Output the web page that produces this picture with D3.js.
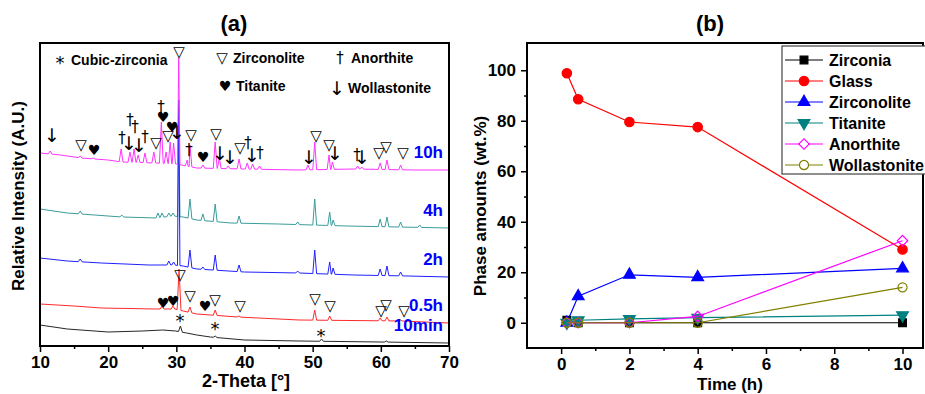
<!DOCTYPE html>
<html>
<head>
<meta charset="utf-8">
<script src="https://d3js.org/d3.v7.min.js"></script>
<style>
  body { margin: 0; background: #fff; }
  svg { display: block; font-family: Arial, "Liberation Sans", sans-serif; }
  .tick text { font-size: 17px; font-weight: bold; fill: #000; }
  .tick line { stroke: #000; stroke-width: 1.5; }
  .sym { font-family: "DejaVu Sans", sans-serif; fill: #000; }
</style>
</head>
<body>
<svg id="chart" width="925" height="394"></svg>
<script>
// ---------- (a) XRD patterns : [2-theta, intensity (A.U.)] ----------
const twoThetaTicks = [10, 20, 30, 40, 50, 60, 70];
const twoThetaMinor = [15, 25, 35, 45, 55, 65];

const base10min = [[10,21],[14,17],[20,14],[25,15],[28,16],[29.9,15],[31.5,13],[33,11],[35,9],[40,6],[48,5],[60,4],[70,3]];
const peaks10min = [[30.6,20],[35.7,10],[51.3,7],[60.8,5]];

const base05h = [[10,42],[15,40],[19,38],[27,37],[29.8,37],[31,35],[33,32],[39,29],[48,26],[63,25],[70,23]];
const peaks05h = [[27.9,40],[29.5,40],[30.4,77],[32.0,39],[35.7,36],[39.2,30],[50.3,36],[52.5,30],[59.9,28],[60.9,29],[62.9,26]];

const base2h = [[10,88],[14,85],[19,83],[26,81],[29.5,81],[31,80],[33,77],[40,74],[48,73],[56,71],[64,70],[70,69]];
const peaks2h = [[15.9,87],[28.9,85],[29.6,84],[30.35,246],[32.0,96],[33.9,79],[35.7,91],[39.2,81],[47.8,75],[50.3,96],[52.5,84],[53.0,78],[59.9,77],[60.9,80],[62.9,74]];

const base4h = [[10,137],[14,133],[18,131],[22,129],[27,128],[29.5,130],[31,129],[33,126],[38,123],[45,122],[55,120],[70,118]];
const peaks4h = [[15.9,135],[22.0,131],[27.3,133],[27.9,133],[28.9,133],[29.5,133],[30.35,238],[32.0,147],[33.9,132],[35.7,142],[39.2,130],[47.8,124],[50.3,147],[52.5,134],[53.0,126],[59.9,127],[60.9,129],[62.9,124],[65.7,121]];

const base10h = [[10,193],[13,191],[16,188],[20,186],[22,184],[27,183],[30,182],[33,178],[40,177],[48,176],[56,177],[65,176],[70,176]];
const peaks10h = [[11.5,195],[15.9,190],[17.8,188],[21.9,197],[23.2,194],[23.8,197],[24.4,191],[25.4,193],[26.7,194],[27.8,224],[28.5,194],[29.1,204],[29.6,203],[30.35,288],[31.6,186],[32.0,201],[33.9,181],[35.7,204],[36.3,188],[37.6,180],[39.2,187],[40.4,183],[41.2,182],[42.2,180],[49.3,181],[50.3,204],[52.4,191],[52.9,184],[56.6,180],[57.2,179],[59.9,183],[60.9,186],[62.9,181]];

const patternNames = ['10min', '0.5h', '4h', '2h', '10h'];
const patternColors = ['#262626', '#ff2a2a', '#3a9c9c', '#2020ff', '#ff33ff'];

// phase markers on the patterns : [2-theta, intensity]
const starMarks = [[30.54,26],[35.67,18],[51.22,11]];
const zirconoliteMarks = [[16.01,201],[27.02,203],[28.78,210],[30.39,294],[32.15,211],[35.82,212],[39.34,198],[50.49,210],[52.39,201],[59.73,193],[60.76,199],[63.25,193],
  [30.54,71],[32.0,50],[35.67,46],[39.34,40],[50.34,47],[52.54,40],[60.02,35],[60.76,41],[63.4,35]];
const titaniteMarks = [[17.92,196],[28.04,229],[29.36,219],[33.91,189],[28.04,43],[29.51,45],[34.2,40]];
const anorthiteMarks = [[22.03,208],[23.2,226],[23.94,219],[25.4,209],[27.75,239],[31.86,196],[40.51,203],[42.27,193],[56.5,191]];
const wollastoniteMarks = [[11.76,211],[23.06,203],[24.52,201],[30.1,214],[36.4,193],[37.87,189],[41.1,191],[49.46,189],[53.27,193],[57.23,189]];

// ---------- (b) phase amounts ----------
const times = [0.167, 0.5, 2, 4, 10];
const zirconia = [1, 0, 0, 0, 0];
const glass = [98.8, 88.5, 79.5, 77.5, 29];
const zirconolite = [0, 10.5, 19, 18, 21.5];
const titanite = [0, 1, 1.5, 2, 3];
const anorthite = [0, 0, 0, 2.5, 32.5];
const wollastonite = [0, 0, 0, 0, 14];
const phaseNames = ['Zirconia', 'Glass', 'Zirconolite', 'Titanite', 'Anorthite', 'Wollastonite'];
const phaseColors = ['#000000', '#ff0000', '#0000ff', '#008080', '#ff00ff', '#808000'];
const timeTicks = [0, 2, 4, 6, 8, 10];
const amountTicks = [0, 20, 40, 60, 80, 100];

const svg = d3.select('#chart');

// ===== panel (a) =====
const xA = d3.scaleLinear().domain([10, 70]).range([40, 449]);
const yA = d3.scaleLinear().domain([0, 303]).range([346, 43]);
const gA = svg.append('g');

function buildPattern(base, peaks) {
  const baseAt = d3.scaleLinear().domain(base.map(d => d[0])).range(base.map(d => d[1]));
  const pts = [];
  peaks.forEach(p => {
    const w = p[1] - baseAt(p[0]) > 60 ? 0.18 : 0.28;
    pts.push([p[0] - w, baseAt(p[0] - w)], [p[0], p[1]], [p[0] + w, baseAt(p[0] + w)]);
  });
  base.forEach(b => {
    const inside = peaks.some(p => Math.abs(b[0] - p[0]) < 0.35);
    if (!inside) pts.push(b);
  });
  return pts.sort((a, b) => a[0] - b[0]);
}

const patterns = [
  buildPattern(base10min, peaks10min),
  buildPattern(base05h, peaks05h),
  buildPattern(base4h, peaks4h),
  buildPattern(base2h, peaks2h),
  buildPattern(base10h, peaks10h)
];
const bases = [base10min, base05h, base4h, base2h, base10h];

const lineA = d3.line().x(d => xA(d[0])).y(d => yA(d[1]));
patterns.forEach((p, i) => {
  gA.append('path').attr('d', lineA(p))
    .attr('fill', 'none').attr('stroke', patternColors[i]).attr('stroke-width', 1);
});

// pattern labels
patternNames.forEach((n, i) => {
  const last = bases[i][bases[i].length - 1];
  gA.append('text').attr('x', 443).attr('y', yA(last[1]) - 12)
    .attr('text-anchor', 'end').attr('font-size', 17).attr('font-weight', 'bold')
    .attr('fill', '#0000ff').text(n);
});

// phase symbols
function drawMarks(data, glyph, size) {
  gA.selectAll(null).data(data).enter().append('text')
    .attr('class', 'sym')
    .attr('x', d => xA(d[0])).attr('y', d => yA(d[1]))
    .attr('text-anchor', 'middle').attr('dominant-baseline', 'central')
    .attr('font-size', size).text(glyph);
}
drawMarks(zirconoliteMarks, '\u25BD', 15);
drawMarks(titaniteMarks, '\u2665', 14);
drawMarks(anorthiteMarks, '\u2020', 15);
drawMarks(wollastoniteMarks, '\u2193', 19);
drawMarks(starMarks, '*', 18);

// legend inside (a)
const legA = [
  ['*', 'Cubic-zirconia', 60, 62],
  ['\u25BD', 'Zirconolite', 222, 58],
  ['\u2020', 'Anorthite', 340, 58],
  ['\u2665', 'Titanite', 225, 86],
  ['\u2193', 'Wollastonite', 337, 88]
];
const legSize = { '*': 18, '\u25BD': 15, '\u2020': 15, '\u2665': 14, '\u2193': 19 };
legA.forEach(l => {
  gA.append('text').attr('class', 'sym').attr('x', l[2]).attr('y', l[3])
    .attr('text-anchor', 'middle').attr('dominant-baseline', 'central')
    .attr('font-size', legSize[l[0]]).text(l[0]);
  gA.append('text').attr('x', l[2] + 11).attr('y', l[0] === '*' ? l[3] - 2 : l[3])
    .attr('dominant-baseline', 'central').attr('font-size', 14).attr('font-weight', 'bold')
    .text(l[1]);
});

// axes (a)
gA.append('g').attr('transform', 'translate(0,346)')
  .call(d3.axisBottom(xA).tickValues(twoThetaTicks).tickSize(6).tickPadding(4))
  .call(g => g.select('.domain').remove());
gA.append('g').attr('transform', 'translate(0,346)')
  .call(d3.axisBottom(xA).tickValues(twoThetaMinor).tickSize(3).tickFormat(''))
  .call(g => g.select('.domain').remove());
gA.append('rect').attr('x', 40).attr('y', 43).attr('width', 409).attr('height', 303)
  .attr('fill', 'none').attr('stroke', '#000').attr('stroke-width', 2);

gA.append('text').attr('x', 234).attr('y', 31).attr('text-anchor', 'middle')
  .attr('font-size', 22).attr('font-weight', 'bold').text('(a)');
gA.append('text').attr('x', 246).attr('y', 387).attr('text-anchor', 'middle')
  .attr('font-size', 18).attr('font-weight', 'bold').text('2-Theta [\u00B0]');
gA.append('text').attr('transform', 'translate(24,196) rotate(-90)').attr('text-anchor', 'middle')
  .attr('font-size', 17).attr('font-weight', 'bold').text('Relative Intensity (A.U.)');

// ===== panel (b) =====
const xB = d3.scaleLinear().domain([-1, 10.6]).range([527, 923]);
const yB = d3.scaleLinear().domain([-10, 110.8]).range([348, 43]);
const gB = svg.append('g');

gB.append('g').attr('transform', 'translate(0,348)')
  .call(d3.axisBottom(xB).tickValues(timeTicks).tickSize(6).tickPadding(4))
  .call(g => g.select('.domain').remove());
gB.append('g').attr('transform', 'translate(0,348)')
  .call(d3.axisBottom(xB).tickValues([1, 3, 5, 7, 9]).tickSize(3).tickFormat(''))
  .call(g => g.select('.domain').remove());
gB.append('g').attr('transform', 'translate(527,0)')
  .call(d3.axisLeft(yB).tickValues(amountTicks).tickSize(6).tickPadding(5))
  .call(g => g.select('.domain').remove());
gB.append('g').attr('transform', 'translate(527,0)')
  .call(d3.axisLeft(yB).tickValues([10, 30, 50, 70, 90]).tickSize(3).tickFormat(''))
  .call(g => g.select('.domain').remove());

const series = [zirconia, glass, zirconolite, titanite, anorthite, wollastonite];
const symbols = [
  { type: d3.symbolSquare, rot: 0, fill: true, size: 60 },
  { type: d3.symbolCircle, rot: 0, fill: true, size: 70 },
  { type: d3.symbolTriangle, rot: 0, fill: true, size: 60 },
  { type: d3.symbolTriangle, rot: 180, fill: true, size: 60 },
  { type: d3.symbolSquare, rot: 45, fill: false, size: 55 },
  { type: d3.symbolCircle, rot: 0, fill: false, size: 65 }
];
const lineB = d3.line().x(d => xB(d[0])).y(d => yB(d[1]));

series.forEach((vals, i) => {
  const pts = times.map((t, j) => [t, vals[j]]);
  gB.append('path').attr('d', lineB(pts)).attr('fill', 'none')
    .attr('stroke', phaseColors[i]).attr('stroke-width', 1.2);
  gB.selectAll(null).data(pts).enter().append('path')
    .attr('d', d3.symbol().type(symbols[i].type).size(symbols[i].size))
    .attr('transform', d => `translate(${xB(d[0])},${yB(d[1])}) rotate(${symbols[i].rot})`)
    .attr('fill', symbols[i].fill ? phaseColors[i] : 'none')
    .attr('stroke', phaseColors[i]).attr('stroke-width', 1.2);
});

gB.append('rect').attr('x', 527).attr('y', 43).attr('width', 396).attr('height', 305)
  .attr('fill', 'none').attr('stroke', '#000').attr('stroke-width', 2);

// legend (b)
const legB = gB.append('g');
legB.append('rect').attr('x', 782).attr('y', 46).attr('width', 160).attr('height', 128)
  .attr('fill', '#fff').attr('stroke', '#444').attr('stroke-width', 1.2);
phaseNames.forEach((n, i) => {
  const y = 60 + i * 21;
  legB.append('line').attr('x1', 785).attr('x2', 823).attr('y1', y).attr('y2', y)
    .attr('stroke', phaseColors[i]).attr('stroke-width', 1.2);
  legB.append('path')
    .attr('d', d3.symbol().type(symbols[i].type).size(symbols[i].size))
    .attr('transform', `translate(804,${y}) rotate(${symbols[i].rot})`)
    .attr('fill', symbols[i].fill ? phaseColors[i] : '#fff')
    .attr('stroke', phaseColors[i]).attr('stroke-width', 1.2);
  legB.append('text').attr('x', 829).attr('y', y).attr('dominant-baseline', 'central')
    .attr('font-size', 16).attr('font-weight', 'bold').text(n);
});

gB.append('text').attr('x', 710).attr('y', 31).attr('text-anchor', 'middle')
  .attr('font-size', 22).attr('font-weight', 'bold').text('(b)');
gB.append('text').attr('x', 730).attr('y', 390).attr('text-anchor', 'middle')
  .attr('font-size', 17).attr('font-weight', 'bold').text('Time (h)');
gB.append('text').attr('transform', 'translate(486,206) rotate(-90)').attr('text-anchor', 'middle')
  .attr('font-size', 17).attr('font-weight', 'bold').text('Phase amounts (wt.%)');
</script>
</body>
</html>
